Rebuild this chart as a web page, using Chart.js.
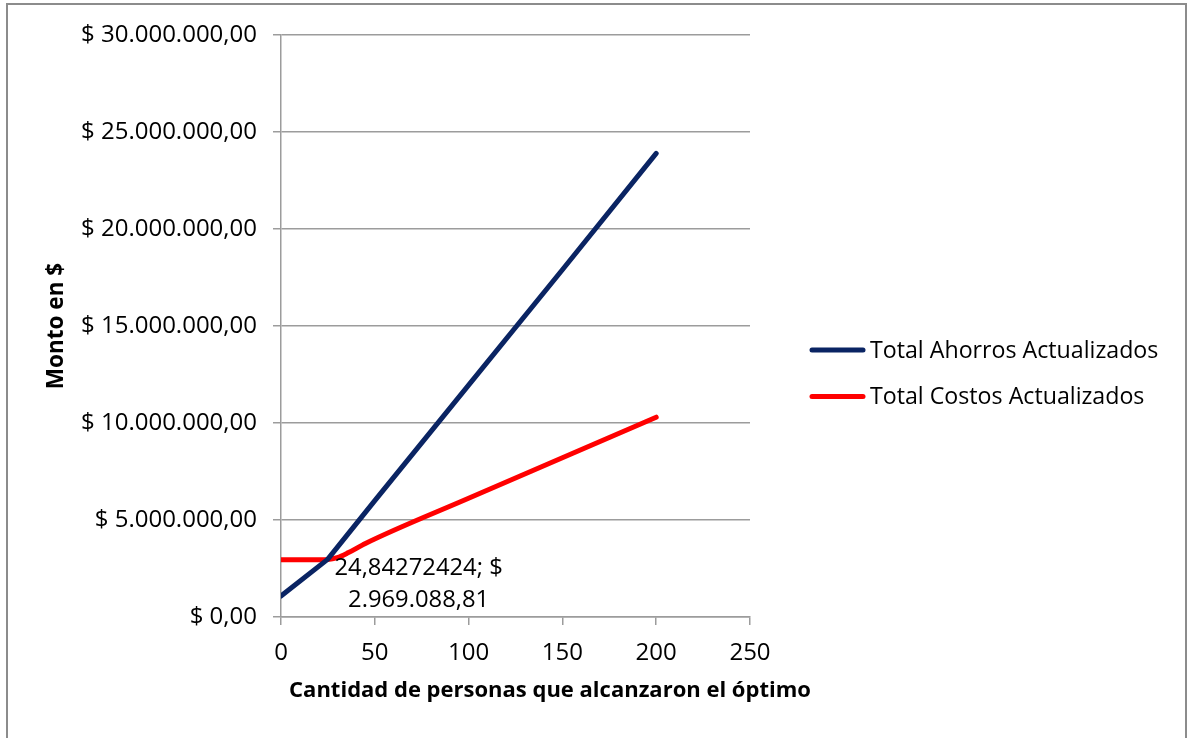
<!DOCTYPE html>
<html>
<head>
<meta charset="utf-8">
<script src="https://cdn.jsdelivr.net/npm/chart.js@4.4.1/dist/chart.umd.min.js"></script>
<style>
  html, body { margin: 0; padding: 0; background: #fff; }
  #wrap { position: relative; width: 1193px; height: 738px; overflow: hidden; }
  #frame { position: absolute; left: 6px; top: 3px; width: 1177px; height: 800px; border: 2px solid #8c8c8c; }
  canvas { position: absolute; left: 0; top: 0; }
</style>
</head>
<body>
<div id="wrap">
  <div id="frame"></div>
  <canvas id="c" width="1193" height="738"></canvas>
</div>
<script>
// Cantidad de personas (eje X) y montos actualizados en $ (eje Y)
const ahorrosX = [0, 24.84272424, 50, 100, 150, 200];
const ahorrosY = [1080000, 2969088.81, 6000000, 11950000, 17900000, 23900000];

const costosX = [0, 15, 24.84272424, 30, 36, 45, 100, 150, 200];
const costosY = [2950000, 2951000, 2969088.81, 3060000, 3320000, 3790000, 6120000, 8210000, 10300000];

// Punto de equilibrio rotulado (índice dentro de la serie de costos)
const equilibrioIdx = 2;

const serieNombres = ['Total Ahorros Actualizados', 'Total Costos Actualizados'];
const serieColores = ['#0a2463', '#ff0000'];

const yTicks = { min: 0, max: 30000000, step: 5000000 };
const xTicks = { min: 0, max: 250, step: 50 };

const tituloX = 'Cantidad de personas que alcanzaron el óptimo';
const tituloY = 'Monto en $';

const FONT = '"Open Sans", "DejaVu Sans", sans-serif';

// Formato numérico con punto de miles y coma decimal
function formatoMiles(v, dec) {
  const neg = v < 0;
  const parts = Math.abs(v).toFixed(dec).split('.');
  const ent = parts[0].replace(/\B(?=(\d{3})+(?!\d))/g, '.');
  return (neg ? '-' : '') + ent + (dec > 0 ? ',' + parts[1] : '');
}
function formatoDecimal(v, dec) {
  return v.toFixed(dec).replace('.', ',');
}

const puntos = (xs, ys) => xs.map((x, i) => ({ x: x, y: ys[i] }));

const overlay = {
  id: 'overlay',
  afterDraw(chart) {
    const { ctx, chartArea, scales } = chart;
    ctx.save();
    ctx.fillStyle = '#000';

    // Títulos de ejes
    ctx.font = 'bold 22px ' + FONT;
    ctx.textAlign = 'center';
    ctx.textBaseline = 'middle';
    ctx.fillText(tituloX, 550, 691);
    ctx.save();
    ctx.translate(57, (chartArea.top + chartArea.bottom) / 2);
    ctx.rotate(-Math.PI / 2);
    ctx.font = 'bold 22.5px ' + FONT;
    ctx.fillText(tituloY, 0, 0);
    ctx.restore();

    // Leyenda
    ctx.font = '23.2px ' + FONT;
    ctx.textAlign = 'left';
    chart.data.datasets.forEach((ds, i) => {
      const yy = 350 + i * 46.5;
      ctx.strokeStyle = ds.borderColor;
      ctx.lineWidth = 5;
      ctx.lineCap = 'round';
      ctx.beginPath();
      ctx.moveTo(812, yy);
      ctx.lineTo(863, yy);
      ctx.stroke();
      ctx.fillStyle = '#000';
      ctx.fillText(ds.label, 870, yy + 1);
    });

    // Rótulo del punto de equilibrio
    const px = scales.x.getPixelForValue(costosX[equilibrioIdx]);
    const py = scales.y.getPixelForValue(costosY[equilibrioIdx]);
    const lineas = [
      formatoDecimal(costosX[equilibrioIdx], 8) + '; $',
      formatoMiles(costosY[equilibrioIdx], 2)
    ];
    ctx.font = '23.8px ' + FONT;
    ctx.textAlign = 'center';
    ctx.textBaseline = 'middle';
    lineas.forEach((t, i) => ctx.fillText(t, px + 91, py + 9 + i * 32));
    ctx.restore();
  }
};

const gridColor = '#9c9c9c';

const estiloLinea = {
  borderWidth: 5,
  borderCapStyle: 'round',
  borderJoinStyle: 'round',
  pointRadius: 0,
  fill: false
};

new Chart(document.getElementById('c'), {
  type: 'line',
  data: {
    datasets: [
      Object.assign({
        label: serieNombres[0],
        data: puntos(ahorrosX, ahorrosY),
        borderColor: serieColores[0],
        tension: 0
      }, estiloLinea),
      Object.assign({
        label: serieNombres[1],
        data: puntos(costosX, costosY),
        borderColor: serieColores[1],
        cubicInterpolationMode: 'monotone'
      }, estiloLinea)
    ]
  },
  options: {
    responsive: false,
    animation: false,
    devicePixelRatio: 1,
    layout: { padding: { left: 0, top: 35, right: 443, bottom: 0 } },
    plugins: {
      legend: { display: false },
      tooltip: { enabled: false }
    },
    scales: {
      x: {
        type: 'linear',
        min: xTicks.min,
        max: xTicks.max,
        afterFit(s) { s.height = 121; },
        ticks: {
          stepSize: xTicks.step,
          color: '#000',
          padding: 14,
          maxRotation: 0,
          font: { family: FONT, size: 24 }
        },
        grid: {
          drawOnChartArea: false,
          drawTicks: true,
          tickLength: 8,
          color: gridColor,
          lineWidth: 1.5
        },
        border: { display: true, color: gridColor, width: 1.5 }
      },
      y: {
        min: yTicks.min,
        max: yTicks.max,
        afterFit(s) { s.width = 281; },
        ticks: {
          stepSize: yTicks.step,
          color: '#000',
          padding: 16,
          font: { family: FONT, size: 24 },
          callback: (v) => '$ ' + formatoMiles(v, 2)
        },
        grid: {
          drawTicks: true,
          tickLength: 8,
          color: gridColor,
          lineWidth: 1.5
        },
        border: { display: true, color: gridColor, width: 1.5 }
      }
    }
  },
  plugins: [overlay]
});
</script>
</body>
</html>
